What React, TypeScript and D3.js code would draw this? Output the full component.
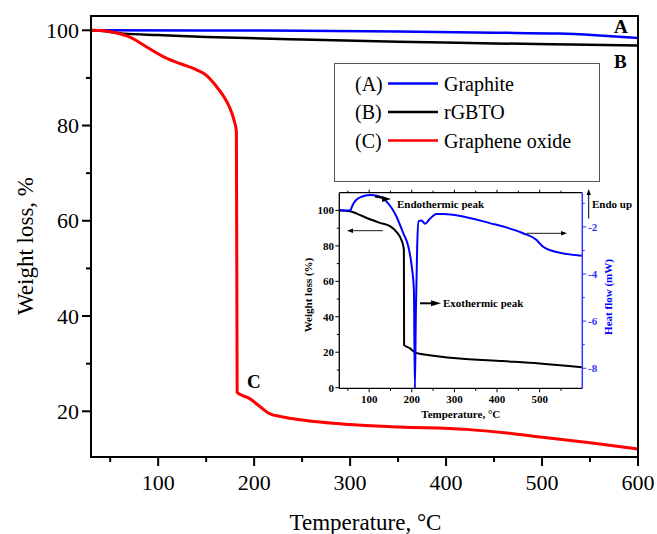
import React from 'react';
import * as d3 from 'd3';

type P = [number, number];

// ---- main chart data ----
const mainTempTicks = [100, 200, 300, 400, 500, 600];
const mainTempMinor = [50, 150, 250, 350, 450, 550];
const mainWeightTicks = [20, 40, 60, 80, 100];
const mainWeightMinor = [30, 50, 70, 90];

const graphite: P[] = [
  [30, 100], [150, 99.97], [250, 99.9], [350, 99.75], [450, 99.5], [518, 99.3], [560, 98.9], [600, 98.4],
];
const rgbto: P[] = [
  [30, 100], [45, 99.8], [64, 99.3], [100, 99.0], [150, 98.6], [250, 98.05], [350, 97.6], [450, 97.25], [530, 97.0], [600, 96.8],
];
const grapheneOxide: P[] = [
  [30, 100], [40, 99.95], [53, 99.6], [70, 98.6], [88, 96.5], [109, 94.1], [123, 93.0], [140, 91.7], [150, 90.6],
  [160, 88.4], [168, 86.2], [174, 84.0], [178.5, 81.5], [181.5, 78.8], [182.3, 24], [188, 23.3], [194, 22.8],
  [206, 21.0], [216, 19.5], [230, 18.8], [248, 18.2], [300, 17.2], [352, 16.7], [421, 16.2], [466, 15.4],
  [498, 14.6], [550, 13.4], [600, 12.1],
];

const legendLabels = ['(A)', '(B)', '(C)'];
const legendNames = ['Graphite', 'rGBTO', 'Graphene oxide'];
const seriesColors = ['#0000ff', '#000000', '#ff0000'];
const curveLetters = ['A', 'B', 'C'];

// ---- inset data ----
const insetTempTicks = [100, 200, 300, 400, 500];
const insetTempMinor = [50, 150, 250, 350, 450, 550];
const insetWeightTicks = [0, 20, 40, 60, 80, 100];
const insetWeightMinor = [10, 30, 50, 70, 90];
const heatTicks = [-8, -6, -4, -2];
const heatMinor = [-7, -5, -3, -1];

const insetWeight: P[] = [
  [30, 100], [55, 99.6], [71, 98.2], [102, 95], [125, 93], [149, 91.1], [164, 87.9], [176, 83.2], [180, 80],
  [181.5, 77.6], [182, 24], [196, 22.2], [207, 19.9], [223, 19], [260, 17.8], [305, 16.6], [414, 15], [500, 13.7], [599, 11.5],
];
const insetHeat: P[] = [
  [30, -1.28], [55, -1.31], [62, -1.05], [70, -0.85], [82, -0.72], [102, -0.65], [118, -0.68], [141, -0.93],
  [164, -1.56], [180, -2.27], [192, -2.84], [200, -3.69], [205, -4.68], [207.3, -8.85], [209.6, -5.66],
  [212.7, -2.84], [216, -1.77], [223, -1.73], [231, -1.87], [242, -1.67], [258, -1.45], [274, -1.45],
  [383, -1.84], [461, -2.27], [492, -2.55], [500, -2.7], [508, -2.84], [523, -2.98], [599, -3.23],
];

const SERIF = "'Liberation Serif', 'Times New Roman', Times, serif";

export default function App() {
  // main scales
  const x = d3.scaleLinear().domain([30, 600]).range([91, 638]);
  const y = d3.scaleLinear().domain([10.4, 103]).range([457, 16]);
  const line = d3.line<P>().x(d => x(d[0])).y(d => y(d[1])).curve(d3.curveMonotoneX);

  // inset scales
  const ix = d3.scaleLinear().domain([30, 600]).range([339.3, 582.3]);
  const iy = d3.scaleLinear().domain([0, 110]).range([387.7, 192.7]);
  const ir = d3.scaleLinear().domain([-8.85, -0.55]).range([388.3, 192.7]);
  const iw = d3.line<P>().x(d => ix(d[0])).y(d => iy(d[1])).curve(d3.curveMonotoneX);
  const ih = d3.line<P>().x(d => ix(d[0])).y(d => ir(d[1])).curve(d3.curveMonotoneX);

  const [x0, x1] = x.range();
  const [yb, yt] = y.range();
  const [ix0, ix1] = ix.range();
  const iyb = 388.3, iyt = 192.7;

  const series = [graphite, rgbto, grapheneOxide];

  const arrowHead = (tx: number, ty: number, dir: 'l' | 'r' | 'u', len: number, half: number) => {
    if (dir === 'l') return `${tx},${ty} ${tx + len},${ty - half} ${tx + len},${ty + half}`;
    if (dir === 'r') return `${tx},${ty} ${tx - len},${ty - half} ${tx - len},${ty + half}`;
    return `${tx},${ty} ${tx - half},${ty + len} ${tx + half},${ty + len}`;
  };

  const tf = { fontFamily: SERIF };

  return (
    <svg width={657} height={534} style={{ position: 'absolute', left: 0, top: 0, background: '#fff', fontFamily: SERIF }}>
      <rect x={0} y={0} width={657} height={534} fill="#fff" />
      {/* main lines */}
      {series.map((s, i) => (
        <path key={i} d={line(s) || ''} fill="none" stroke={seriesColors[i]} strokeWidth={i === 2 ? 3 : 2.5} />
      ))}
      {/* main frame */}
      <rect x={x0} y={yt} width={x1 - x0} height={yb - yt} fill="none" stroke="#000" strokeWidth={2} />
      {/* x ticks */}
      {mainTempTicks.map(t => (
        <g key={t}>
          <line x1={x(t)} x2={x(t)} y1={yb} y2={yb + 9} stroke="#000" strokeWidth={2} />
          <text style={tf} x={x(t)} y={490} fontSize={22} textAnchor="middle">{t}</text>
        </g>
      ))}
      {mainTempMinor.map(t => (
        <line key={t} x1={x(t)} x2={x(t)} y1={yb} y2={yb + 5} stroke="#000" strokeWidth={2} />
      ))}
      {/* y ticks */}
      {mainWeightTicks.map(t => (
        <g key={t}>
          <line x1={x0 - 9} x2={x0} y1={y(t)} y2={y(t)} stroke="#000" strokeWidth={2} />
          <text style={tf} x={79} y={y(t) + 7.5} fontSize={22} textAnchor="end">{t}</text>
        </g>
      ))}
      {mainWeightMinor.map(t => (
        <line key={t} x1={x0 - 5} x2={x0} y1={y(t)} y2={y(t)} stroke="#000" strokeWidth={2} />
      ))}
      <text style={tf} x={(x0 + x1) / 2 + 1} y={530} fontSize={23} textAnchor="middle">Temperature, °C</text>
      <text style={tf} transform={`translate(33,${246}) rotate(-90)`} fontSize={23} textAnchor="middle">Weight loss, %</text>

      {/* curve letters */}
      <text style={tf} x={614} y={33} fontSize={19} fontWeight="bold">{curveLetters[0]}</text>
      <text style={tf} x={614} y={68} fontSize={19} fontWeight="bold">{curveLetters[1]}</text>
      <text style={tf} x={247} y={388} fontSize={19} fontWeight="bold">{curveLetters[2]}</text>

      {/* legend */}
      <rect x={334.5} y={63.5} width={265} height={118} fill="#fff" stroke="#555" strokeWidth={1} />
      {legendLabels.map((lab, i) => {
        const cy = 83.5 + i * 28.5;
        return (
          <g key={lab}>
            <text style={tf} x={355} y={cy + 7} fontSize={20}>{lab}</text>
            <line x1={388} x2={438} y1={cy} y2={cy} stroke={seriesColors[i]} strokeWidth={2.5} />
            <text style={tf} x={444} y={cy + 7} fontSize={20}>{legendNames[i]}</text>
          </g>
        );
      })}

      {/* inset */}
      <g fontWeight="bold" fontSize={11}>
        <path d={iw(insetWeight) || ''} fill="none" stroke="#000" strokeWidth={2} />
        <path d={ih(insetHeat) || ''} fill="none" stroke="#0000ff" strokeWidth={2} />
        {/* frame */}
        <line x1={ix0} x2={ix1} y1={iyt} y2={iyt} stroke="#000" strokeWidth={1.3} />
        <line x1={ix0} x2={ix1} y1={iyb} y2={iyb} stroke="#000" strokeWidth={1.3} />
        <line x1={ix0} x2={ix0} y1={iyt} y2={iyb} stroke="#000" strokeWidth={1.3} />
        <line x1={ix1} x2={ix1} y1={iyt} y2={iyb} stroke="#3333ff" strokeWidth={1.5} />
        {insetTempTicks.map(t => (
          <g key={t}>
            <line x1={ix(t)} x2={ix(t)} y1={iyb} y2={iyb + 4} stroke="#000" strokeWidth={1} />
            <line x1={ix(t)} x2={ix(t)} y1={iyt} y2={iyt - 3} stroke="#000" strokeWidth={1} />
            <text style={tf} x={ix(t)} y={403} textAnchor="middle">{t}</text>
          </g>
        ))}
        {insetTempMinor.map(t => (
          <g key={t}>
            <line x1={ix(t)} x2={ix(t)} y1={iyb} y2={iyb + 2.5} stroke="#000" strokeWidth={1} />
            <line x1={ix(t)} x2={ix(t)} y1={iyt} y2={iyt - 2} stroke="#000" strokeWidth={1} />
          </g>
        ))}
        {insetWeightTicks.map(t => (
          <g key={t}>
            <line x1={ix0 - 4} x2={ix0} y1={iy(t)} y2={iy(t)} stroke="#000" strokeWidth={1} />
            <text style={tf} x={334} y={iy(t) + 4} textAnchor="end">{t}</text>
          </g>
        ))}
        {insetWeightMinor.map(t => (
          <line key={t} x1={ix0 - 2.5} x2={ix0} y1={iy(t)} y2={iy(t)} stroke="#000" strokeWidth={1} />
        ))}
        {heatTicks.map(t => (
          <g key={t}>
            <line x1={ix1} x2={ix1 + 4} y1={ir(t)} y2={ir(t)} stroke="#3333ff" strokeWidth={1} />
            <text style={tf} x={588} y={ir(t) + 4} fill="#3333ff">{t}</text>
          </g>
        ))}
        {heatMinor.map(t => (
          <line key={t} x1={ix1} x2={ix1 + 2.5} y1={ir(t)} y2={ir(t)} stroke="#3333ff" strokeWidth={1} />
        ))}
        <text style={tf} x={(ix0 + ix1) / 2} y={418} textAnchor="middle">Temperature, °C</text>
        <text style={tf} transform="translate(312,295) rotate(-90)" textAnchor="middle">Weight loss (%)</text>
        <text style={tf} transform="translate(612,297) rotate(-90)" textAnchor="middle" fill="#0000ff">Heat flow (mW)</text>

        {/* annotations */}
        <text style={tf} x={397} y={208}>Endothermic peak</text>
        <line x1={375} y1={196.5} x2={384} y2={198} stroke="#000" strokeWidth={2} />
        <polygon points={arrowHead(391, 199, 'r', 9, 3)} fill="#000" />
        <text style={tf} x={443} y={306.5}>Exothermic peak</text>
        <line x1={420} y1={303.3} x2={432} y2={303.3} stroke="#000" strokeWidth={2} />
        <polygon points={arrowHead(441, 303.3, 'r', 10, 3)} fill="#000" />
        <line x1={383} y1={230.7} x2={352} y2={230.7} stroke="#000" strokeWidth={0.9} />
        <polygon points={arrowHead(347, 230.7, 'l', 6, 2.2)} fill="#000" />
        <line x1={526.7} y1={233.3} x2={561} y2={233.3} stroke="#000" strokeWidth={0.9} />
        <polygon points={arrowHead(567, 233.3, 'r', 6, 2.2)} fill="#000" />
        <line x1={588.7} y1={218.5} x2={588.7} y2={195} stroke="#000" strokeWidth={1} />
        <polygon points={arrowHead(588.7, 189, 'u', 6, 2.2)} fill="#000" />
        <text style={tf} x={592} y={208}>Endo up</text>
      </g>
    </svg>
  );
}
